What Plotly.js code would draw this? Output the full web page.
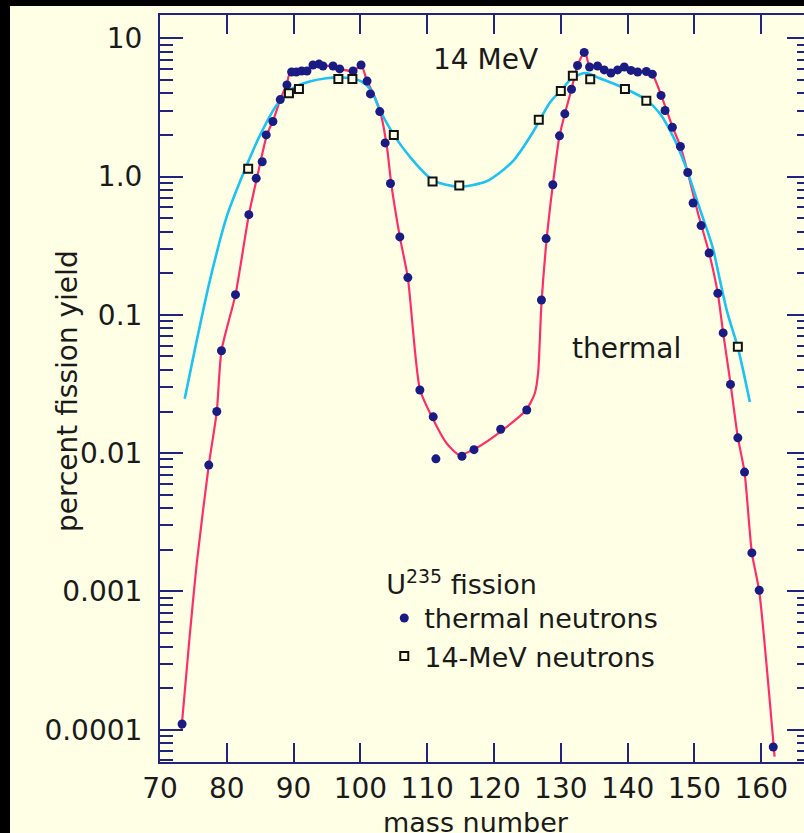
<!DOCTYPE html>
<html>
<head>
<meta charset="utf-8">
<script src="https://cdn.plot.ly/plotly-3.0.1.min.js"></script>
<style>
  html, body { margin:0; padding:0; background:#000; overflow:hidden; width:804px; height:833px; }
  #chart { position:absolute; left:10px; top:6px; width:820px; height:827px; }
</style>
</head>
<body>
<div id="chart"></div>
<script>
// ---- data ----
// thermal-neutron fission yields (dots)
var thermalMass = [73.3, 77.3, 78.5, 79.2, 81.3, 83.3, 84.4, 85.3, 85.9, 86.9, 88.0, 89.0, 89.7,
  90.4, 91.2, 92.0, 92.9, 93.8, 94.4, 95.9, 96.9, 98.9, 100.1,
  101.0, 101.5, 102.9, 103.7, 104.5, 105.9, 107.1, 108.9, 110.9, 111.3, 115.2, 117.0, 121.0, 124.9,
  127.1, 127.8, 128.8, 129.8, 130.6, 131.6, 132.5, 133.5,
  134.3, 135.5, 136.5, 137.5, 138.5, 139.5, 140.5, 141.5, 142.8, 143.7,
  145.0, 145.6, 146.7, 147.9, 149.0, 149.8, 151.0, 152.2, 153.5, 154.3, 155.4, 156.5, 157.5, 158.6, 159.7, 161.8];
var thermalYield = [1.1e-4, 0.0082, 0.020, 0.055, 0.14, 0.53, 0.97, 1.28, 2.0, 2.5, 3.6, 4.6, 5.7,
  5.7, 5.8, 5.8, 6.4, 6.5, 6.3, 6.3, 6.0, 5.8, 6.4,
  4.9, 3.96, 2.95, 1.75, 0.89, 0.366, 0.186, 0.0286, 0.0183, 0.0091, 0.0095, 0.0106, 0.0149, 0.0205,
  0.128, 0.356, 0.873, 1.97, 2.84, 4.28, 6.35, 7.9,
  6.2, 6.3, 5.9, 5.6, 5.9, 6.2, 5.85, 5.7, 5.75, 5.5,
  3.86, 3.0, 2.27, 1.65, 1.07, 0.644, 0.442, 0.28, 0.143, 0.074, 0.0314, 0.0129, 0.0073, 0.0019, 0.00102, 7.5e-5];

// 14-MeV neutron fission yields (open squares)
var fastMass = [83.2, 89.3, 90.8, 96.7, 98.8, 105.0, 110.8, 114.8, 126.7, 130.0, 131.8, 134.4, 139.6, 142.8, 156.5];
var fastYield = [1.14, 4.0, 4.3, 5.08, 5.08, 2.0, 0.92, 0.86, 2.57, 4.16, 5.35, 5.06, 4.3, 3.53, 0.0588];

// thermal curve (red)
var thermalCurveMass = [73.2, 74.4, 75.5, 77.3, 78.5, 79.2, 81.3, 83.3, 84.5, 86.0, 87.0, 88.0, 89.0, 89.5,
  92.0, 93.0, 94.5, 96.0, 97.0, 99.0, 100.1, 101.0, 102.0, 103.0, 104.0, 104.6, 105.9, 107.1, 108.9,
  110.9, 112.9, 114.8, 117.2, 120.8, 124.8, 126.1, 126.6, 127.1, 127.9, 128.8, 129.8, 130.6, 131.6, 132.5, 133.6,
  134.3, 135.5, 136.5, 137.5, 138.5, 139.5, 140.5, 141.5, 142.8, 143.7,
  145.0, 146.7, 147.9, 149.0, 150.5, 152.2, 153.5, 154.3, 155.4, 156.5, 157.5, 158.6, 159.7, 162.0];
var thermalCurveYield = [1.0e-4, 4.5e-4, 0.0016, 0.0082, 0.020, 0.055, 0.14, 0.53, 0.97, 2.0, 2.6, 3.6, 4.7, 5.7,
  5.9, 6.3, 6.3, 6.3, 6.0, 5.8, 6.4, 4.9, 3.9, 2.9, 1.6, 0.9, 0.366, 0.186, 0.029,
  0.0175, 0.0118, 0.0097, 0.0108, 0.0141, 0.0205, 0.027, 0.038, 0.12, 0.36, 0.87, 1.97, 2.84, 4.28, 6.35, 8.0,
  6.3, 6.3, 5.9, 5.6, 5.9, 6.2, 5.85, 5.7, 5.75, 5.5,
  3.9, 2.3, 1.65, 1.07, 0.55, 0.28, 0.143, 0.074, 0.032, 0.013, 0.0073, 0.0019, 0.001, 6.4e-5];

// 14-MeV curve (cyan)
var fastCurveMass = [73.7, 75.0, 77.5, 80.0, 82.5, 85.0, 87.5, 89.9, 92.4, 94.9, 97.4, 99.9, 101.6, 102.9,
  105.0, 107.4, 110.9, 114.8, 118.8, 120.8, 123.0, 125.8, 128.3, 130.0, 131.8, 133.8, 135.8, 139.5, 142.8,
  144.8, 146.8, 148.7, 150.7, 152.7, 153.7, 154.9, 156.5, 158.3];
var fastCurveYield = [0.0247, 0.050, 0.18, 0.515, 1.06, 2.0, 3.3, 4.36, 4.86, 5.14, 5.2, 4.94, 4.2, 3.03,
  2.0, 1.39, 0.94, 0.845, 0.92, 1.06, 1.32, 2.08, 3.39, 4.18, 5.2, 5.6, 5.14, 4.35, 3.58,
  2.87, 1.95, 1.18, 0.605, 0.311, 0.189, 0.105, 0.058, 0.0234];

var xTicks = [70, 80, 90, 100, 110, 120, 130, 140, 150, 160];
var yTicks = [0.0001, 0.001, 0.01, 0.1, 1, 10];
var yTickText = ['0.0001', '0.001', '0.01', '0.1', '1.0', '10'];

// ---- styling ----
var axisColor = '#22227f';
var textColor = '#1a1a1a';
var bg = '#FFFFE6';

var minorVals = [];
for (var d = -5; d <= 1; d++) {
  for (var k = 2; k <= 9; k++) minorVals.push(k * Math.pow(10, d));
}

var traces = [
  { x: thermalCurveMass, y: thermalCurveYield, mode: 'lines', type: 'scatter',
    line: { color: '#ff2d6a', width: 2.2, shape: 'spline', smoothing: 0.6 }, showlegend: false, hoverinfo: 'skip' },
  { x: fastCurveMass, y: fastCurveYield, mode: 'lines', type: 'scatter',
    line: { color: '#1cc2f2', width: 2.6, shape: 'spline', smoothing: 0.8 }, showlegend: false, hoverinfo: 'skip' },
  { x: thermalMass, y: thermalYield, mode: 'markers', type: 'scatter', name: 'thermal neutrons',
    marker: { symbol: 'circle', size: 9, color: '#1a1c84' } },
  { x: fastMass, y: fastYield, mode: 'markers', type: 'scatter', name: '14-MeV neutrons',
    marker: { symbol: 'square', size: 8, color: bg, line: { color: '#111', width: 2 } } }
];

var layout = {
  width: 820, height: 827,
  margin: { l: 150, r: 20, t: 9, b: 71, pad: 0 },
  paper_bgcolor: bg, plot_bgcolor: bg,
  font: { family: 'DejaVu Sans', size: 28, color: textColor },
  showlegend: true,
  legend: {
    x: 0.345, y: 0.272, xanchor: 'left', yanchor: 'top',
    bgcolor: 'rgba(0,0,0,0)', borderwidth: 0,
    font: { family: 'DejaVu Sans', size: 27, color: textColor },
    title: { text: 'U<sup>235</sup> fission', font: { family: 'DejaVu Sans', size: 27, color: textColor } },
    itemwidth: 30, tracegroupgap: 0
  },
  xaxis: {
    range: [70, 167.3], tickmode: 'array', tickvals: xTicks, ticktext: xTicks.map(String),
    ticks: 'inside', ticklen: 19, tickwidth: 2, tickcolor: axisColor,
    showline: true, linecolor: axisColor, linewidth: 2, mirror: 'ticks',
    showgrid: false, zeroline: false, ticklabelstandoff: 0,
    tickfont: { family: 'DejaVu Sans', size: 28, color: textColor }
  },
  yaxis: {
    type: 'log', range: [-4.233, 1.168], tickmode: 'array', tickvals: yTicks, ticktext: yTickText,
    ticks: 'inside', ticklen: 23, tickwidth: 2, tickcolor: axisColor,
    showline: true, linecolor: axisColor, linewidth: 2, mirror: 'ticks',
    showgrid: false, zeroline: false, ticklabelstandoff: 10,
    tickfont: { family: 'DejaVu Sans', size: 28, color: textColor },
    minor: { tickmode: 'array', tickvals: minorVals, ticks: 'inside', ticklen: 13, tickwidth: 2, tickcolor: axisColor, showgrid: false }
  },
  annotations: [
    { text: '14 MeV', xref: 'paper', yref: 'paper', x: 0.5, y: 0.941, xanchor: 'center', yanchor: 'middle', showarrow: false,
      font: { family: 'DejaVu Sans', size: 28, color: textColor } },
    { text: 'thermal', xref: 'paper', yref: 'paper', x: 0.717, y: 0.553, xanchor: 'center', yanchor: 'middle', showarrow: false,
      font: { family: 'DejaVu Sans', size: 28, color: textColor } },
    { text: 'mass number', xref: 'paper', yref: 'paper', x: 0.486, y: -0.081, xanchor: 'center', yanchor: 'middle', showarrow: false,
      font: { family: 'DejaVu Sans', size: 27, color: textColor } },
    { text: 'percent fission yield', xref: 'paper', yref: 'paper', x: -0.1415, y: 0.4967, xanchor: 'center', yanchor: 'middle',
      textangle: -90, showarrow: false, font: { family: 'DejaVu Sans', size: 28, color: textColor } }
  ]
};

Plotly.newPlot('chart', traces, layout, { displayModeBar: false, staticPlot: true });
</script>
</body>
</html>
